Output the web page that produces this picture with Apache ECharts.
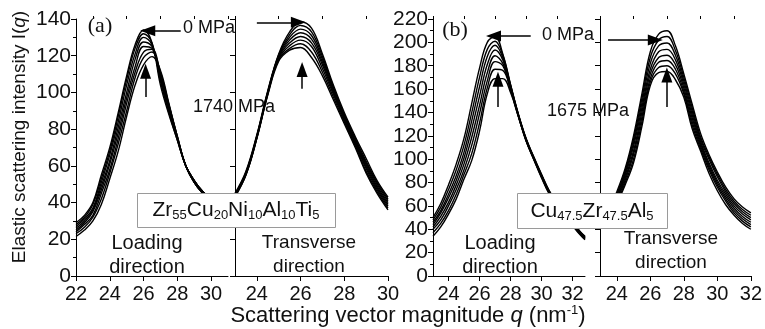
<!DOCTYPE html>
<html>
<head>
<meta charset="utf-8">
<script src="https://cdn.jsdelivr.net/npm/echarts@6/dist/echarts.min.js"></script>
<style>
  html, body { margin: 0; padding: 0; background: #fff; }
  #chart { width: 765px; height: 329px; }
</style>
</head>
<body>
<div id="chart"></div>
<script>
const FONT = '"Liberation Sans", Arial, sans-serif';
const SERIF = '"Liberation Serif", "Times New Roman", serif';

// (a) Zr55Cu20Ni10Al10Ti5, loading direction, 0 MPa -> 1740 MPa
const qLoadA = [22, 22.5, 23, 23.5, 24, 24.5, 25, 25.5, 26, 26.5, 27, 27.5, 28, 28.5, 29, 29.5, 30, 30.5, 31];
const loadA = [
  [29, 33, 40, 55, 70, 89, 109, 126, 134, 127, 104, 88, 74, 60, 52, 46, 42, 39, 37],
  [28, 32, 39, 53, 68, 87, 107, 124, 132, 127, 106, 89, 74, 60, 52, 46, 42, 39, 37],
  [27, 31, 37, 51, 66, 84, 104, 121, 130, 126, 107, 90, 75, 60, 52, 46, 42, 39, 37],
  [26, 30, 36, 49, 63, 81, 100, 118, 127.5, 125, 108, 91, 75, 60, 52, 46, 42, 39, 37],
  [25, 29, 35, 47, 61, 78, 97, 114, 125, 124, 109, 92, 75, 60, 51, 46, 42, 39, 37],
  [24, 28, 33, 45, 58, 75, 94, 111, 122, 123.5, 110, 93, 76, 60, 51, 45, 41, 38, 36],
  [23, 26.5, 32, 42, 56, 72, 90, 108, 119, 122, 111, 93.5, 76, 60, 51, 45, 41, 38, 36],
  [21.5, 25, 30, 39, 53, 68, 87, 104, 115, 119.5, 112, 94, 76, 60, 51, 45, 41, 38, 36]
];

// (a) transverse direction
const qTransA = [23, 23.5, 24, 24.5, 25, 25.5, 26, 26.5, 27, 27.5, 28, 28.5, 29, 29.5, 30];
const transA = [
  [45, 57, 77, 101, 121, 133, 138.5, 135, 121, 104, 89, 76, 64, 52, 43],
  [44.5, 56.5, 76.5, 100.5, 120.5, 131.5, 136.5, 133, 119.5, 103, 88, 75, 62.5, 51, 42],
  [44.5, 56, 76, 100, 120, 130, 134.5, 131, 118, 102, 87, 74, 61.5, 50, 41],
  [44, 56, 76, 100, 119.5, 128.5, 132.5, 129, 116.5, 101, 86.5, 73.5, 60.5, 49, 40],
  [44, 55.5, 75.5, 99.5, 119, 127, 130.5, 127, 115, 100, 86, 72.5, 59.5, 48, 39],
  [43.5, 55.5, 75.5, 99.5, 118.5, 125.5, 128.5, 125, 113, 99, 85, 72, 58.5, 47, 38],
  [43.5, 55, 75, 99, 118, 124, 126.5, 122, 111, 97.5, 84, 71, 57, 46, 37],
  [43, 55, 75, 98.5, 117, 123, 124.5, 119, 109, 96, 83, 70, 56, 45, 36]
];

// (b) Cu47.5Zr47.5Al5, loading direction, 0 MPa -> 1675 MPa
const qLoadB = [23, 23.5, 24, 24.5, 25, 25.5, 26, 26.5, 27, 27.5, 28, 28.5, 29, 29.5, 30, 30.5, 31, 31.5, 32, 32.5, 32.8];
const loadB = [
  [50, 62, 78, 96, 118, 148, 178, 200, 205, 190, 164, 139, 118, 102, 87, 73, 63, 54, 46, 38, 34],
  [48, 59, 74, 91, 112, 140, 170, 194, 201, 189, 163.5, 138.5, 117.5, 101.5, 86.5, 72.5, 62.5, 53.5, 45.5, 37.5, 33.5],
  [46, 56, 70, 86, 106, 133, 162, 188, 197.5, 187, 163, 138, 117, 101, 86, 72, 62, 53, 45, 37.5, 33],
  [44, 54, 67, 82, 101, 126, 154, 181, 193.5, 185, 162, 138, 117, 101, 86, 72, 62, 53, 45, 37, 33],
  [42, 51, 63, 78, 96, 119, 146, 174, 188.5, 182, 161, 137.5, 116.5, 100.5, 85.5, 71.5, 61.5, 52.5, 44.5, 36.5, 32.5],
  [40, 48, 60, 74, 91, 112, 139, 167, 183.5, 180, 160, 137, 116, 100, 85, 71, 61, 52, 44, 36, 32],
  [37, 45, 56, 70, 87, 105, 131, 161, 177, 176, 159, 137, 116, 100, 84.5, 70.5, 60.5, 51.5, 43.5, 35.5, 31.5],
  [34, 42, 53, 66, 83, 99, 124, 156, 169, 169, 157, 136.5, 115.5, 99.5, 84, 70, 60, 51, 43, 35, 31]
];

// (b) transverse direction
const qTransB = [23, 23.5, 24, 24.5, 25, 25.5, 26, 26.5, 27, 27.5, 28, 28.5, 29, 29.5, 30, 30.5, 31, 31.5, 32];
const transB = [
  [46, 56, 72, 92, 120, 156, 192, 207, 210, 197, 173, 147, 122, 104, 89, 76, 66, 59, 54],
  [45.5, 55, 70, 90, 117, 152, 187, 202, 205, 193, 170, 144, 119, 102, 87, 74, 64, 57, 52],
  [45, 54, 69, 88, 114, 148, 182, 197, 199.5, 189, 167, 141, 117, 100, 85, 72, 62, 55, 50],
  [44.5, 53, 67, 86, 111, 144, 177, 192, 194, 185, 164, 138, 115, 97, 82, 70, 60, 53, 48],
  [44, 52, 66, 84, 107, 140, 173, 187, 189, 181, 161, 135, 113, 95, 80, 68, 58, 51, 46],
  [43, 51, 65, 82, 104, 136, 169, 183, 184.5, 177, 158, 132, 111, 93, 78, 66, 56, 49, 44],
  [42.5, 50.5, 63, 80, 100, 132, 166, 178.5, 180, 173, 156, 129, 109, 91, 76, 64, 54, 47, 42],
  [42, 50, 62, 78, 97, 128, 163, 174, 175, 168, 153, 126, 107, 88, 73, 61, 52, 45, 40]
];

// axis ranges and tick values
const xRanges = [[22, 31], [23, 30], [23, 32.8], [23, 32]];
const xMajor = [[22, 24, 26, 28, 30], [24, 26, 28, 30], [24, 26, 28, 30, 32], [24, 26, 28, 30, 32]];
const xMinor = [[23, 25, 27, 29, 31], [23, 25, 27, 29], [23, 25, 27, 29, 31], [23, 25, 27, 29, 31]];
const yMax = [140, 140, 220, 220];

// arrows [from, to] in data units, per panel
const arrows = [
  [[[28.2, 133.6], [26.25, 133.6]], [[26.12, 97.5], [26.12, 111.5]]],
  [[[24.0, 138.2], [25.9, 138.2]], [[26.07, 102], [26.07, 112.5]]],
  [[[29.3, 205.5], [26.9, 205.5]], [[27.19, 144.7], [27.19, 168.5]]],
  [[[23.48, 202], [26.3, 202]], [[26.99, 144.7], [26.99, 172]]]
];

const grids = [
  { left: 76, top: 19, width: 152, height: 257 },
  { left: 235, top: 19, width: 153, height: 257 },
  { left: 433, top: 19, width: 152, height: 257 },
  { left: 600, top: 19, width: 151, height: 257 }
];

const black = { color: '#000', width: 1 };

const xAxes = [];
xRanges.forEach((r, i) => {
  xAxes.push({
    type: 'value', gridIndex: i, min: r[0], max: r[1],
    axisLine: { show: true, onZero: false, lineStyle: black },
    axisTick: { show: true, length: 5, lineStyle: black, customValues: xMajor[i] },
    axisLabel: { show: true, customValues: xMajor[i], fontSize: 20, color: '#111', fontFamily: FONT, margin: 8 },
    splitLine: { show: false }
  });
});
xRanges.forEach((r, i) => {
  xAxes.push({
    type: 'value', gridIndex: i, min: r[0], max: r[1],
    axisLine: { show: false, onZero: false },
    axisTick: { show: true, length: 3, lineStyle: black, customValues: xMinor[i] },
    axisLabel: { show: false, customValues: xMinor[i] },
    splitLine: { show: false }
  });
});

const yAxes = yMax.map((m, i) => ({
  type: 'value', gridIndex: i, min: 0, max: m, interval: 20,
  axisLine: { show: true, onZero: false, lineStyle: black },
  axisTick: { show: true, length: 5, lineStyle: black },
  minorTick: { show: i % 2 === 0, splitNumber: 2, length: 3, lineStyle: black },
  axisLabel: { show: i % 2 === 0, fontSize: 21, color: '#111', fontFamily: FONT, margin: 5 },
  splitLine: { show: false }
}));

const panels = [[qLoadA, loadA], [qTransA, transA], [qLoadB, loadB], [qTransB, transB]];
const series = [];
panels.forEach(([q, curves], p) => {
  curves.forEach((c, k) => {
    const s = {
      type: 'line', xAxisIndex: p, yAxisIndex: p,
      data: q.map((x, j) => [x, c[j]]),
      smooth: 0.4, symbol: 'none', silent: true,
      lineStyle: { color: '#000', width: 1.4 },
      z: 2
    };
    if (k === 0) {
      s.markLine = {
        silent: true, animation: false,
        symbol: ['none', 'triangle'], symbolSize: [11, 15],
        label: { show: false },
        lineStyle: { color: '#000', width: 1.5, type: 'solid' },
        data: arrows[p].map(a => [{ coord: a[0] }, { coord: a[1] }])
      };
    }
    series.push(s);
  });
});

const txt = (x, y, text, extra) => ({
  type: 'text', x, y, z: 100,
  style: Object.assign({ text, fill: '#111', font: '19px ' + FONT, align: 'left', verticalAlign: 'middle' }, extra || {})
});

const subRich = {
  m: { fontSize: 21, fontFamily: FONT, fill: '#111', lineHeight: 24, verticalAlign: 'middle' },
  s: { fontSize: 13, fontFamily: FONT, fill: '#111', lineHeight: 13, verticalAlign: 'bottom' }
};

const graphic = [
  {
    type: 'text', x: 20, y: 137, rotation: Math.PI / 2, z: 100,
    style: {
      text: '{n|Elastic scattering intensity I(}{i|q}{n|)}',
      align: 'center', verticalAlign: 'middle',
      rich: {
        n: { fontSize: 19, fontFamily: FONT, fill: '#111' },
        i: { fontSize: 19, fontFamily: FONT, fontStyle: 'italic', fill: '#111' }
      }
    }
  },
  {
    type: 'text', x: 408, y: 316, z: 100,
    style: {
      text: '{n|Scattering vector magnitude }{i|q}{n| (nm}{u|-1}{n|)}',
      align: 'center', verticalAlign: 'middle',
      rich: {
        n: { fontSize: 22, fontFamily: FONT, fill: '#111', lineHeight: 24, verticalAlign: 'middle' },
        i: { fontSize: 22, fontFamily: FONT, fontStyle: 'italic', fill: '#111', lineHeight: 24, verticalAlign: 'middle' },
        u: { fontSize: 13, fontFamily: FONT, fill: '#111', lineHeight: 13, verticalAlign: 'top' }
      }
    }
  },
  txt(100, 26, '(a)', { font: '22px ' + SERIF, align: 'center' }),
  txt(455, 30, '(b)', { font: '22px ' + SERIF, align: 'center' }),
  txt(183, 28, '0 MPa', { font: '18px ' + FONT }),
  txt(193, 107, '1740 MPa', { font: '18px ' + FONT }),
  txt(542, 35, '0 MPa', { font: '18px ' + FONT }),
  txt(547, 111, '1675 MPa', { font: '18px ' + FONT }),
  txt(147, 255, 'Loading\ndirection', { font: '20px ' + FONT, align: 'center', lineHeight: 24 }),
  txt(309, 255, 'Transverse\ndirection', { font: '19px ' + FONT, align: 'center', lineHeight: 24 }),
  txt(500, 255, 'Loading\ndirection', { font: '20px ' + FONT, align: 'center', lineHeight: 24 }),
  txt(671, 251, 'Transverse\ndirection', { font: '19px ' + FONT, align: 'center', lineHeight: 24 }),
  {
    type: 'rect', z: 100, shape: { x: 137.5, y: 193.5, width: 198, height: 34 },
    style: { fill: '#fff', stroke: '#9a9a9a', lineWidth: 1 }
  },
  {
    type: 'text', x: 236, y: 210, z: 101,
    style: {
      text: '{m|Zr}{s|55}{m|Cu}{s|20}{m|Ni}{s|10}{m|Al}{s|10}{m|Ti}{s|5}',
      align: 'center', verticalAlign: 'middle', rich: subRich
    }
  },
  {
    type: 'rect', z: 100, shape: { x: 517.5, y: 193.5, width: 150, height: 35 },
    style: { fill: '#fff', stroke: '#9a9a9a', lineWidth: 1 }
  },
  {
    type: 'text', x: 592, y: 211, z: 101,
    style: {
      text: '{m|Cu}{s|47.5}{m|Zr}{s|47.5}{m|Al}{s|5}',
      align: 'center', verticalAlign: 'middle', rich: subRich
    }
  }
];

const chart = echarts.init(document.getElementById('chart'), null, { renderer: 'canvas' });
chart.setOption({
  animation: false,
  backgroundColor: '#fff',
  grid: grids,
  xAxis: xAxes,
  yAxis: yAxes,
  series,
  graphic
});
</script>
</body>
</html>
